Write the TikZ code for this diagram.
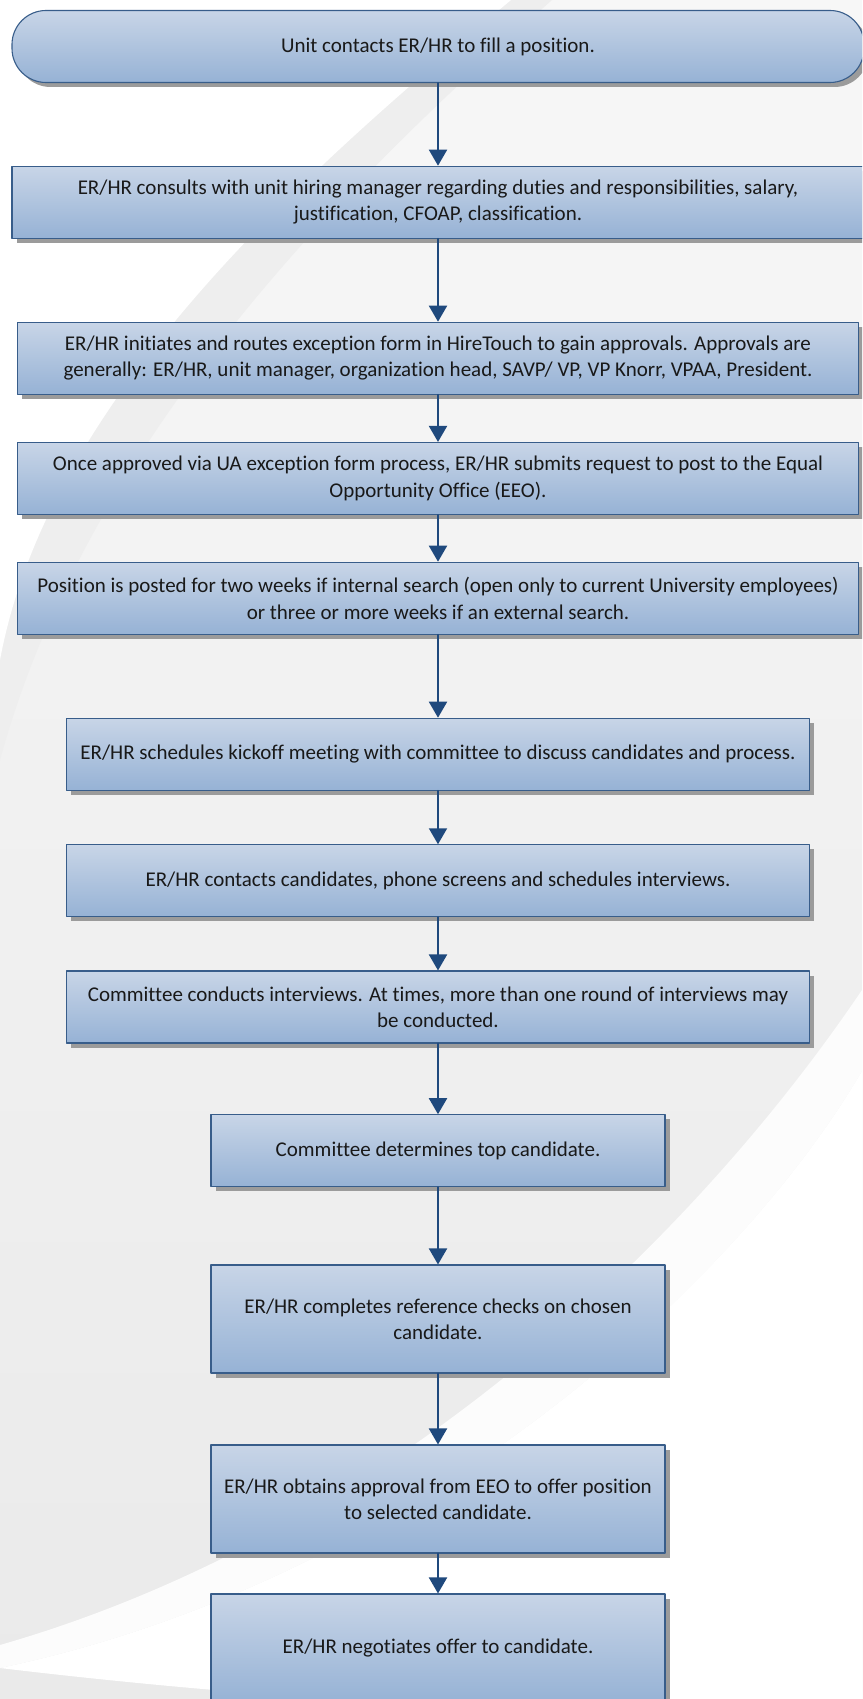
\documentclass[tikz,border=0pt]{standalone}
\usepackage{fontspec}
\setmainfont{Carlito}[Ligatures=NoCommon]
\usetikzlibrary{arrows.meta,shadows,positioning}

\definecolor{boxtop}{RGB}{200,213,231}
\definecolor{boxbot}{RGB}{150,178,213}
\definecolor{boxline}{RGB}{56,93,138}
\definecolor{flowblue}{RGB}{31,73,125}
\definecolor{shadowgray}{RGB}{155,155,155}
\definecolor{bgtop}{RGB}{247,247,247}
\definecolor{bgbot}{RGB}{234,234,234}
\definecolor{bandgray}{RGB}{238,238,238}

\begin{document}
\begin{tikzpicture}[x=1pt,y=-1pt,>={Triangle[width=18pt,length=16pt]},line cap=round,line join=round,
  stepbox/.style={draw=boxline,line width=1.1pt,top color=boxtop,bottom color=boxbot,
    drop shadow={shadow xshift=4.5pt,shadow yshift=-4.5pt,fill=shadowgray,opacity=1},
    inner sep=0pt,align=center,text=black!90,font=\fontsize{21}{26.3}\selectfont},
  widebox/.style={stepbox,minimum width=852pt,minimum height=72pt},
  midbox/.style={stepbox,minimum width=841pt,minimum height=72pt},
  narrowbox/.style={stepbox,minimum width=743pt,minimum height=72pt},
  smallbox/.style={stepbox,minimum width=454pt,minimum height=72pt},
  tallbox/.style={smallbox,minimum height=108pt},
  flow/.style={->,draw=flowblue,line width=2pt}]
  \clip (0,0) rectangle (862,1699);
  \useasboundingbox (0,0) rectangle (862,1699);

  % background
  \shade[top color=bgtop,bottom color=bgbot] (0,0) rectangle (862,1699);
  \fill[bandgray] (0,0) -- (552,0) .. controls (360,170) and (90,430) .. (0,760) -- cycle;
  \fill[white] (0,0) -- (511,0) .. controls (320,160) and (50,390) .. (0,660) -- cycle;
  \fill[white!60!bgtop] (862,990) .. controls (700,1230) and (400,1530) .. (0,1645)
    -- (0,1668) .. controls (420,1580) and (740,1280) .. (862,1071) -- cycle;
  \fill[white] (862,1071) .. controls (740,1280) and (420,1580) .. (0,1668)
    .. controls (100,1680) and (250,1695) .. (350,1699) -- (862,1699) -- cycle;

  % boxes
  \node[widebox,rounded corners=34pt] (start) at (438,46.5) {Unit contacts ER/HR to fill a position.};
  \node[widebox] (consult) at (438,202.25) {ER/HR consults with unit hiring manager regarding duties and responsibilities, salary,\\justification, CFOAP, classification.};
  \node[midbox] (routes) at (438,358.25) {ER/HR initiates and routes exception form in HireTouch to gain approvals. Approvals are\\generally: ER/HR, unit manager, organization head, SAVP/ VP, VP Knorr, VPAA, President.};
  \node[midbox] (submit) at (438,478.5) {Once approved via UA exception form process, ER/HR submits request to post to the Equal\\Opportunity Office (EEO).};
  \node[midbox] (posted) at (438,598.25) {Position is posted for two weeks if internal search (open only to current University employees)\\or three or more weeks if an external search.};
  \node[narrowbox] (kickoff) at (438,754.25) {ER/HR schedules kickoff meeting with committee to discuss candidates and process.};
  \node[narrowbox] (screens) at (438,880.8) {ER/HR contacts candidates, phone screens and schedules interviews.};
  \node[narrowbox] (interviews) at (438,1007) {Committee conducts interviews. At times, more than one round of interviews may\\be conducted.};
  \node[smallbox] (top) at (438,1150.75) {Committee determines top candidate.};
  \node[tallbox] (refs) at (438,1319) {ER/HR completes reference checks on chosen\\candidate.};
  \node[tallbox] (approval) at (438,1499) {ER/HR obtains approval from EEO to offer position\\to selected candidate.};
  \node[tallbox] (offer) at (438,1648) {ER/HR negotiates offer to candidate.};

  % arrows
  \foreach \a/\b in {start/consult,consult/routes,routes/submit,submit/posted,posted/kickoff,
    kickoff/screens,screens/interviews,interviews/top,top/refs,refs/approval,approval/offer}
    \draw[flow] (\a) -- (\b);
\end{tikzpicture}
\end{document}
